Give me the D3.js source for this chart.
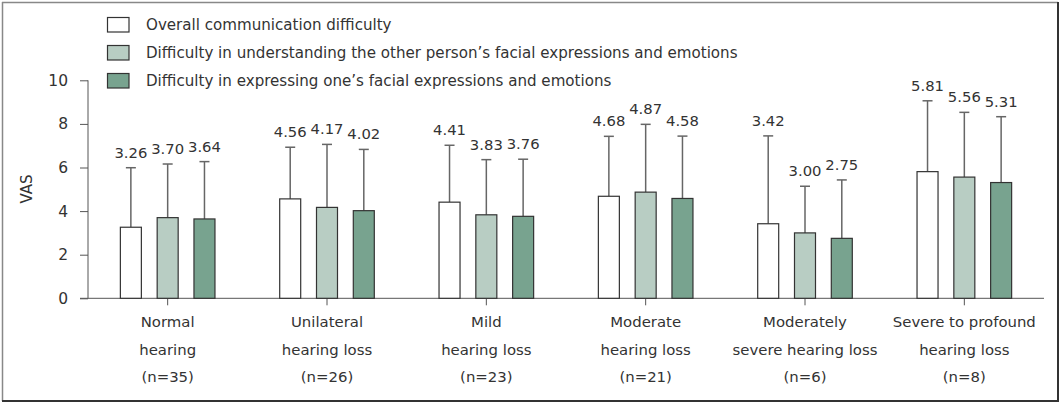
<!DOCTYPE html>
<html><head><meta charset="utf-8">
<script src="https://cdn.jsdelivr.net/npm/d3@7"></script>
<style>body{margin:0;background:#fff}svg{display:block}text{font-family:"DejaVu Sans",sans-serif;fill:#333}</style>
</head><body><svg id="c" width="1061" height="404"></svg>
<script>
const categories = ["Normal hearing (n=35)","Unilateral hearing loss (n=26)","Mild hearing loss (n=23)","Moderate hearing loss (n=21)","Moderately severe hearing loss (n=6)","Severe to profound hearing loss (n=8)"];
const categoryLines = [["Normal","hearing","(n=35)"],["Unilateral","hearing loss","(n=26)"],["Mild","hearing loss","(n=23)"],["Moderate","hearing loss","(n=21)"],["Moderately","severe hearing loss","(n=6)"],["Severe to profound","hearing loss","(n=8)"]];
const seriesNames = ["Overall communication difficulty","Difficulty in understanding the other person\u2019s facial expressions and emotions","Difficulty in expressing one\u2019s facial expressions and emotions"];
const overallMean = [3.26,4.56,4.41,4.68,3.42,5.81];
const understandMean = [3.70,4.17,3.83,4.87,3.00,5.56];
const expressMean = [3.64,4.02,3.76,4.58,2.75,5.31];
const overallUpper = [5.99,6.93,7.02,7.43,7.45,9.06];
const understandUpper = [6.16,7.06,6.36,7.98,5.14,8.53];
const expressUpper = [6.27,6.83,6.38,7.44,5.43,8.33];
const yTicks = [0,2,4,6,8,10];
const colors = ["#ffffff","#b8cdc3","#78a38f"];

const means = [overallMean, understandMean, expressMean];
const uppers = [overallUpper, understandUpper, expressUpper];
const svg = d3.select("#c");
const numFont = "Liberation Sans";

// frame
svg.append("line").attr("x1",2).attr("x2",1058).attr("y1",2.5).attr("y2",2.5).attr("stroke","#888").attr("stroke-width",1.5);
svg.append("line").attr("x1",2.5).attr("x2",2.5).attr("y1",2).attr("y2",401).attr("stroke","#888").attr("stroke-width",1.5);
svg.append("line").attr("x1",2).attr("x2",1059).attr("y1",401).attr("y2",401).attr("stroke","#333").attr("stroke-width",2);
svg.append("line").attr("x1",1058).attr("x2",1058).attr("y1",2).attr("y2",402).attr("stroke","#333").attr("stroke-width",2);

const x = d3.scaleBand().domain(categories).range([88,1044]).padding(0);
const y = d3.scaleLinear().domain([0,10]).range([298.3,80.3]);
const sub = d3.scalePoint().domain([0,1,2]).range([-36.8,36.8]);
const barW = 21;

// y axis
const yAx = svg.append("g").attr("transform","translate(88,0)")
  .call(d3.axisLeft(y).tickValues(yTicks).tickSize(8).tickPadding(12).tickFormat(d3.format("d")));
yAx.select(".domain").attr("stroke","#555").attr("d","M0,"+y(10)+"V"+y(0));
yAx.selectAll(".tick line").attr("stroke","#555");
yAx.selectAll("text").attr("font-size",15.5).style("fill","#333").attr("font-family",numFont);

svg.append("text").attr("transform","translate(32,189) rotate(-90)").attr("text-anchor","middle").attr("font-size",15).text("VAS");

// x axis
const xAx = svg.append("g").attr("transform","translate(0,298.3)").call(d3.axisBottom(x).tickSize(7).tickFormat(""));
xAx.select(".domain").attr("stroke","#555").attr("d","M80,0H1044");
xAx.selectAll(".tick line").attr("stroke","#555");

categories.forEach((c,i)=>{
  const g = svg.append("text").attr("text-anchor","middle").attr("font-size",14.9);
  categoryLines[i].forEach((l,j)=>{
    g.append("tspan").attr("x",x(c)+x.bandwidth()/2).attr("y",327+j*27.5).text(l);
  });
});

// bars
means.forEach((arr,s)=>{
  const g = svg.append("g");
  arr.forEach((v,i)=>{
    const cx = x(categories[i])+x.bandwidth()/2;
    const mid = cx + sub(s);
    const bx = mid - barW/2;
    const up = uppers[s][i];
    g.append("line").attr("x1",mid).attr("x2",mid).attr("y1",y(v)).attr("y2",y(up)).attr("stroke","#666").attr("stroke-width",1.5);
    g.append("line").attr("x1",mid-5).attr("x2",mid+5).attr("y1",y(up)).attr("y2",y(up)).attr("stroke","#666").attr("stroke-width",1.5);
    g.append("rect").attr("x",bx).attr("y",y(v)).attr("width",barW).attr("height",y(0)-y(v))
      .attr("fill",colors[s]).attr("stroke","#333").attr("stroke-width",1.2);
    g.append("text").attr("x",mid).attr("y",y(up)-10).attr("text-anchor","middle").attr("font-size",14.8).attr("font-family",numFont).text(v.toFixed(2));
  });
});

// legend
seriesNames.forEach((n,i)=>{
  const yy = 17.5 + i*28;
  svg.append("rect").attr("x",107.5).attr("y",yy).attr("width",21.5).attr("height",14.5).attr("fill",colors[i]).attr("stroke","#333").attr("stroke-width",1.2);
  svg.append("text").attr("x",146).attr("y",yy+12.5).attr("font-size",15.1).text(n);
});
</script></body></html>
